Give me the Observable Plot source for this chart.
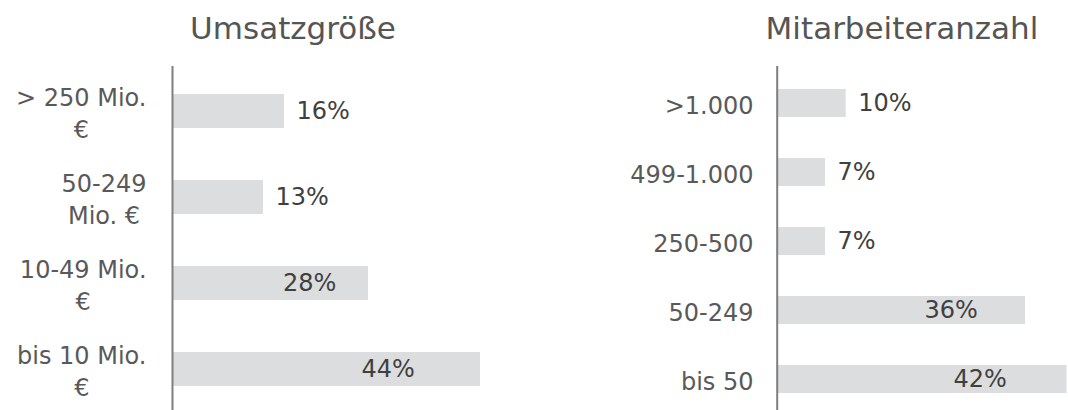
<!DOCTYPE html>
<html>
<head>
<meta charset="utf-8">
<script src="https://cdn.jsdelivr.net/npm/d3@7"></script>
<script src="https://cdn.jsdelivr.net/npm/@observablehq/plot@0.6"></script>
<style>
  html, body { margin: 0; padding: 0; background: #ffffff; }
  #wrap { position: relative; width: 1068px; height: 410px; overflow: hidden; font-family: "DejaVu Sans", sans-serif; }
  .title { position: absolute; top: 13px; font-size: 31px; line-height: 31px; color: #555555; white-space: nowrap; transform: translateX(-50%); }
  .panel { position: absolute; top: 0; }
</style>
</head>
<body>
<div id="wrap"></div>
<script>
// ---- data ----
const titles = ["Umsatzgröße", "Mitarbeiteranzahl"];
const leftCategories = ["> 250 Mio.\n€", "50-249\nMio. €", "10-49 Mio.\n€", "bis 10 Mio.\n€"];
const leftValues = [16, 13, 28, 44];
const rightCategories = [">1.000", "499-1.000", "250-500", "50-249", "bis 50"];
const rightValues = [10, 7, 7, 36, 42];

// ---- helpers ----
const FONT = "DejaVu Sans";
const ctx = document.createElement("canvas").getContext("2d");
ctx.font = `24px '${FONT}'`;
const blockWidth = s => Math.max(...s.split("\n").map(l => ctx.measureText(l).width));

function panel({cats, vals, x0, pxPerUnit, labelRight}) {
  const data = cats.map((c, i) => ({c, v: vals[i]}));
  const toUnit = px => (px - x0) / pxPerUnit;
  return Plot.plot({
    width: 534,
    height: 410,
    marginTop: 66,
    marginBottom: 0,
    marginLeft: 0,
    marginRight: 0,
    style: {fontFamily: FONT, color: "#595959", background: "transparent", overflow: "visible"},
    x: {domain: [0, 50], range: [x0, x0 + 50 * pxPerUnit], axis: null},
    y: {domain: cats, range: [65, 416], paddingInner: 0.6, paddingOuter: 0.32, axis: null},
    marks: [
      Plot.barX(data, {x: "v", y: "c", fill: "#dcddde"}),
      Plot.ruleX([0], {stroke: "#7f7f7f", strokeWidth: 2}),
      Plot.text(data, {
        x: d => toUnit(labelRight - blockWidth(d.c) / 2),
        y: "c", text: "c",
        textAnchor: "middle", lineAnchor: "middle", lineHeight: 1.33,
        fontSize: 24, fill: "#595959"
      }),
      Plot.text(data.filter(d => d.v < 20), {
        x: "v", y: "c", text: d => d.v + "%",
        textAnchor: "start", dx: 12, fontSize: 24, fill: "#404040"
      }),
      Plot.text(data.filter(d => d.v >= 20), {
        x: d => d.v * 0.7, y: "c", text: d => d.v + "%",
        textAnchor: "middle", fontSize: 24, fill: "#404040"
      })
    ]
  });
}

const wrap = document.getElementById("wrap");

const left = panel({cats: leftCategories, vals: leftValues, x0: 172, pxPerUnit: 7.0, labelRight: 146});
left.classList.add("panel");
left.style.left = "0px";
wrap.appendChild(left);

const right = panel({cats: rightCategories, vals: rightValues, x0: 242.7, pxPerUnit: 6.9, labelRight: 219});
right.classList.add("panel");
right.style.left = "534px";
wrap.appendChild(right);

[[titles[0], 293], [titles[1], 902]].forEach(([t, cx]) => {
  const d = document.createElement("div");
  d.className = "title";
  d.textContent = t;
  d.style.left = cx + "px";
  wrap.appendChild(d);
});
</script>
</body>
</html>
